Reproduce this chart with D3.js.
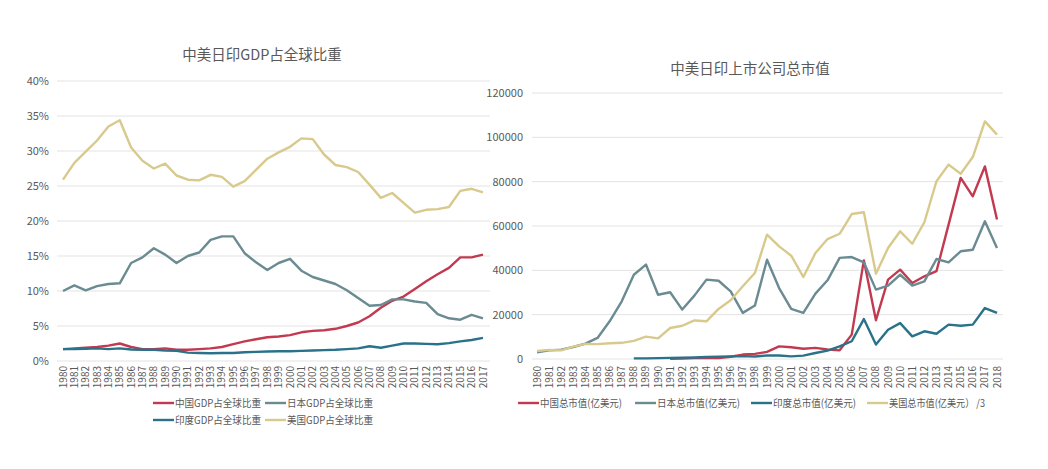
<!DOCTYPE html>
<html><head><meta charset="utf-8">
<script src="https://cdn.jsdelivr.net/npm/d3@7"></script>
<style>
html,body{margin:0;padding:0;background:#fff;}
text{font-family:"Noto Sans CJK SC","Noto Sans",sans-serif;fill:#595959;}
</style></head>
<body>
<svg id="c" width="1048" height="469"></svg>
<script>
// ---------- Left chart data ----------
const gdpYears = d3.range(1980, 2018);
const gdpYTicks = [0,5,10,15,20,25,30,35,40];
const gdpChina = [1.7,1.8,1.9,2.0,2.2,2.5,2.0,1.7,1.7,1.8,1.6,1.6,1.7,1.8,2.0,2.4,2.8,3.1,3.4,3.5,3.7,4.1,4.3,4.4,4.6,5.0,5.5,6.4,7.6,8.6,9.2,10.3,11.4,12.4,13.3,14.8,14.8,15.2];
const gdpJapan = [10.0,10.8,10.1,10.7,11.0,11.1,14.0,14.8,16.1,15.2,14.0,15.0,15.5,17.3,17.8,17.8,15.4,14.1,13.0,14.0,14.6,12.9,12.0,11.5,11.0,10.1,9.0,7.9,8.0,8.8,8.8,8.5,8.3,6.7,6.1,5.9,6.6,6.1];
const gdpIndia = [1.7,1.7,1.75,1.8,1.7,1.8,1.65,1.6,1.6,1.5,1.45,1.2,1.15,1.1,1.15,1.15,1.25,1.3,1.35,1.4,1.4,1.45,1.5,1.55,1.6,1.7,1.8,2.1,1.9,2.2,2.5,2.5,2.45,2.4,2.55,2.8,3.0,3.3];
const gdpUS = [25.9,28.3,29.9,31.5,33.5,34.4,30.5,28.6,27.5,28.2,26.5,25.9,25.8,26.6,26.3,24.9,25.7,27.3,28.9,29.8,30.6,31.8,31.7,29.5,28.0,27.7,27.0,25.2,23.3,24.0,22.6,21.2,21.6,21.7,22.0,24.3,24.6,24.1];
const gdpTitle = "中美日印GDP占全球比重";
const gdpNames = ["中国GDP占全球比重","日本GDP占全球比重","印度GDP占全球比重","美国GDP占全球比重"];

// ---------- Right chart data ----------
const capYears = d3.range(1980, 2019);
const capYTicks = [0,20000,40000,60000,80000,100000,120000];
const capChina = [null,null,null,null,null,null,null,null,null,null,null,100,200,400,450,450,1000,2000,2300,3200,5700,5300,4600,5000,4300,3900,11000,44500,17500,35800,40300,34300,37300,39600,60600,81700,73400,86900,62900];
const capJapan = [3000,3900,4200,5400,6900,9500,17000,26000,38000,42600,29000,30100,22300,28600,35800,35300,30500,20800,24100,44800,32000,22600,20800,29500,35500,45600,46000,43600,31300,33100,38000,33100,35000,45100,43600,48600,49300,62100,50100];
const capIndia = [null,null,null,null,null,null,null,null,300,300,400,500,600,700,900,1000,1200,1300,1100,1600,1600,1200,1500,2700,3800,5700,8000,18000,6500,13200,16200,10200,12500,11400,15500,15000,15500,23000,20800];
const capUS3 = [3600,4100,3900,5600,6800,6700,7100,7300,8200,10100,9300,14000,15000,17400,17000,22600,26500,32800,38800,56100,50800,46600,37000,47800,54100,56500,65400,66200,38500,50100,57600,52000,61700,80200,87700,83600,91100,107200,101200];
const capTitle = "中美日印上市公司总市值";
const capNames = ["中国总市值(亿美元)","日本总市值(亿美元)","印度总市值(亿美元)","美国总市值(亿美元） /3"];

const colors = ["#c23a50","#6b8b93","#2a7289","#d8c98c"];

const svg = d3.select("#c");
const gridColor = "#e3e3e3";

function drawChart(cfg){
  const g = svg.append("g");
  const x = d3.scaleLinear().domain([cfg.years[0], cfg.years[cfg.years.length-1]]).range([cfg.x0, cfg.x1]);
  const y = d3.scaleLinear().domain([cfg.yTicks[0], cfg.yTicks[cfg.yTicks.length-1]]).range([cfg.y0, cfg.y1]);
  g.selectAll(".grid").data(cfg.yTicks).enter().append("line")
    .attr("x1", cfg.gx0).attr("x2", cfg.gx1)
    .attr("y1", d=>y(d)).attr("y2", d=>y(d))
    .attr("stroke", gridColor).attr("stroke-width", 1);
  g.selectAll(".yl").data(cfg.yTicks).enter().append("text")
    .attr("x", cfg.ylx).attr("y", d=>y(d)).attr("dy","0.35em")
    .attr("text-anchor","end").attr("font-size", 11)
    .text(cfg.yfmt);
  g.selectAll(".xl").data(cfg.years).enter().append("text")
    .attr("transform", d=>`translate(${x(d)+3.5},${cfg.xly}) rotate(-90)`)
    .attr("text-anchor","end").attr("font-size", 10)
    .text(d=>d);
  const line = d3.line().defined(d=>d[1]!=null).x(d=>x(d[0])).y(d=>y(d[1]));
  cfg.series.forEach((s,i)=>{
    g.append("path").datum(cfg.years.map((yr,j)=>[yr,s[j]]))
      .attr("d", line).attr("fill","none")
      .attr("stroke", colors[i]).attr("stroke-width", 2.4)
      .attr("stroke-linejoin","round");
  });
  g.append("text").attr("x", cfg.tx).attr("y", cfg.ty)
    .attr("text-anchor","middle").attr("font-size", 14.5).attr("fill","#555")
    .text(cfg.title);
  cfg.legend.forEach((p,i)=>{
    g.append("line").attr("x1", p[0]).attr("x2", p[0]+21).attr("y1", p[1]).attr("y2", p[1])
      .attr("stroke", colors[i]).attr("stroke-width", 2.4);
    g.append("text").attr("x", p[0]+22).attr("y", p[1]).attr("dy","0.35em")
      .attr("font-size", 10.5)
      .attr("textLength", p[2]).attr("lengthAdjust","spacingAndGlyphs")
      .text(cfg.names[i]);
  });
}

drawChart({
  years: gdpYears, yTicks: gdpYTicks,
  x0: 63, x1: 483, y0: 361, y1: 81, gx0: 57, gx1: 490,
  ylx: 49, xly: 366, yfmt: d=>d+"%",
  series: [gdpChina, gdpJapan, gdpIndia, gdpUS],
  title: gdpTitle, tx: 262, ty: 60,
  names: gdpNames,
  legend: [[153,403,86],[265,403,86],[153,420,86],[265,420,86]]
});

drawChart({
  years: capYears, yTicks: capYTicks,
  x0: 537, x1: 997, y0: 359, y1: 93, gx0: 532, gx1: 1003,
  ylx: 523, xly: 366, yfmt: d=>d,
  series: [capChina, capJapan, capIndia, capUS3],
  title: capTitle, tx: 750, ty: 74,
  names: capNames,
  legend: [[518,403,82],[635,403,83],[751,403,83],[867,403,96]]
});
</script>
</body></html>
